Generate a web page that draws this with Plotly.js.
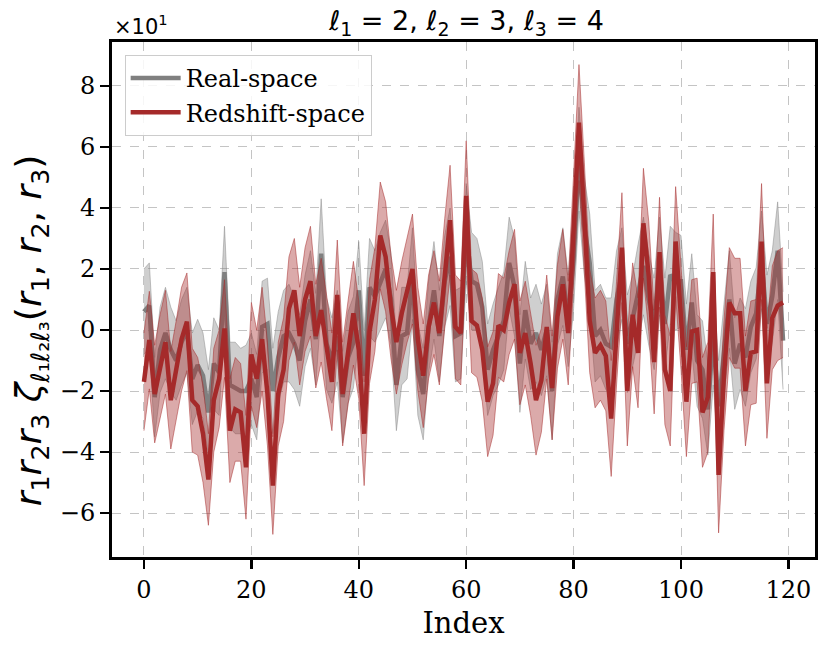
<!DOCTYPE html>
<html>
<head>
<meta charset="utf-8">
<script src="https://cdn.plot.ly/plotly-3.0.1.min.js"></script>
<style>
  body { margin: 0; background: #fff; }
  #graph { width: 830px; height: 652px; }
</style>
</head>
<body>
<div id="graph"></div>
<script>
// values in units of 10^1, index 0..119
var realMean = [
    0.6, 0.8, -2.2, -0.65, -0.1, -0.65, -1.0, -0.4, 0, -1.6,
    -1.15, -1.5, -2.7, -1.1, -1.4, 1.9, -1.8, -1.9, -2.0, -2.0,
    -1.6, -2.2, 0.1, 0.2, -2.0, -0.9, -0.2, -0.1, -0.45, -1.0,
    0.3, 1.0, -0.3, 2.5, -0.45, -1.0, -0.2, -2.2, -0.9, -0.4,
    1.3, -1.5, 1.4, 1.1, 1.6, 2.0, 1.0, -1.8, -0.2, -0.1,
    1.85, -1.3, -2.1, 0.1, 1.3, -0.2, 1.6, 2.4, -0.2, -0.1,
    3.2, 1.6, 1.5, 0.75, -1.3, -0.65, -0.2, 0.3, 2.2, 1.4,
    -1.1, 0.65, -0.45, -0.1, -0.65, 0, -2.0, 1.0, 1.75, 0.3,
    2.3, 5.6, 3.4, 2.2, -0.2, 0, -0.45, -0.55, 1.0, 1.85,
    -0.45, 0.3, 1.2, 2.1, 1.0, 0.2, 2.1, 0.2, 1.8, 1.6,
    1.6, -0.65, 0.9, -1.0, -1.3, -2.6, -0.2, -2.5, -0.65, 1.0,
    -1.1, -0.45, -0.9, 0.1, 0.55, 2.3, 0.2, 1.1, 2.6, -0.35
];
var realErr = [
    1.4, 1.4, 1.3, 1.4, 1.5, 1.4, 1.3, 1.4, 1.4, 1.5,
    1.5, 1.4, 1.4, 1.5, 1.4, 1.5, 1.4, 1.5, 1.4, 1.5,
    1.5, 1.4, 1.5, 1.5, 1.4, 1.5, 1.5, 1.6, 1.5, 1.5,
    1.5, 1.6, 1.5, 1.8, 1.5, 1.4, 1.5, 1.5, 1.5, 1.5,
    1.6, 1.5, 1.6, 1.5, 1.6, 1.6, 1.5, 1.5, 1.6, 1.5,
    1.5, 1.5, 1.5, 1.5, 1.6, 1.5, 1.5, 1.6, 1.5, 1.5,
    1.6, 1.6, 1.5, 1.5, 1.5, 1.5, 1.6, 1.6, 1.5, 1.6,
    1.6, 1.6, 1.5, 1.6, 1.5, 1.5, 1.6, 1.5, 1.6, 1.5,
    1.6, 1.7, 1.6, 1.6, 1.5, 1.5, 1.5, 1.6, 1.6, 1.5,
    1.6, 1.5, 1.6, 1.6, 1.5, 1.5, 1.6, 1.5, 1.6, 1.6,
    1.5, 1.5, 1.6, 1.5, 1.6, 1.5, 1.6, 1.5, 1.5, 1.6,
    1.5, 1.5, 1.6, 1.5, 1.5, 1.6, 1.6, 1.5, 1.6, 1.6
];
var rsdMean = [
    -1.7, -0.33, -2.1, -1.2, -0.4, -2.3, -1.3, -0.3, 0.27, -2.3,
    -2.5, -3.4, -4.9, -2.3, -1.6, 0.05, -3.3, -2.6, -2.7, -4.5,
    -0.8, -1.6, -0.3, -2.1, -5.1, -2.1, -1.3, 0.7, 1.3, -0.2,
    1.0, 1.6, -0.2, 0.65, -0.55, -1.7, 1.15, -2.1, -0.75, 0.55,
    -0.65, -3.4, -0.05, 1.0, 3.1, 2.4, 0.75, -0.4, 0.55, 1.3,
    2.0, -0.3, -1.5, 0.1, 0.9, -0.1, 1.85, 3.6, 0.1, -0.1,
    4.4, 0.3, 0.15, -0.65, -2.35, -1.75, 0.15, 0, 0.9, 1.5,
    -0.75, -0.1, -1.1, -2.3, -1.65, 0.1, -1.9, 0.45, 1.5, -0.1,
    3.3, 6.8, 3.7, 0.3, -0.75, -0.5, -0.85, -2.9, -0.1, 2.7,
    -2.0, 0.5, -0.75, 3.5, 1.75, -1.05, 2.55, -1.3, -2.0, 2.9,
    0.4, -2.35, -0.05, 0, -2.7, -2.2, 1.9, -4.75, -1.5, 0.9,
    0.55, 0.55, -2.0, -0.75, -0.7, 2.9, -1.75, 0.4, 0.8, 0.9
];
var rsdErr = [
    1.6, 1.6, 1.6, 1.7, 1.7, 1.6, 1.6, 1.7, 1.6, 1.7,
    1.6, 1.6, 1.5, 1.7, 1.6, 1.6, 1.7, 1.7, 1.6, 1.7,
    1.7, 1.6, 1.7, 1.7, 1.6, 1.7, 1.7, 1.7, 1.7, 1.6,
    1.7, 1.8, 1.7, 1.7, 1.7, 1.6, 1.8, 1.7, 1.7, 1.7,
    1.6, 1.7, 1.7, 1.7, 1.75, 1.8, 1.7, 1.7, 1.7, 1.7,
    1.8, 1.7, 1.7, 1.7, 1.7, 1.7, 1.8, 1.8, 1.7, 1.7,
    1.8, 1.7, 1.7, 1.7, 1.8, 1.7, 1.7, 1.7, 1.7, 1.8,
    1.7, 1.7, 1.7, 1.8, 1.7, 1.7, 1.7, 1.7, 1.8, 1.7,
    1.8, 1.9, 1.8, 1.7, 1.8, 1.8, 1.8, 1.9, 1.7, 1.8,
    1.8, 1.7, 1.8, 1.8, 1.8, 1.7, 1.8, 1.8, 1.8, 1.8,
    1.7, 1.8, 1.7, 1.7, 1.8, 1.8, 1.9, 1.9, 1.8, 1.8,
    1.8, 1.8, 1.8, 1.7, 1.7, 1.9, 1.8, 1.7, 1.8, 1.8
];
var yTicks = [-6, -4, -2, 0, 2, 4, 6, 8];
var xTicks = [0, 20, 40, 60, 80, 100, 120];

function band(mean, err, sign) {
    var out = [];
    for (var i = 0; i < mean.length; i++) {
        out.push(mean[i] + sign * err[i]);
    }
    return out;
}

var idx = [];
for (var i = 0; i < realMean.length; i++) {
    idx.push(i);
}

var grayFill = 'rgba(128,128,128,0.38)';
var redFill = 'rgba(165,42,42,0.4)';

var data = [
    // real-space band + line
    { x: idx, y: band(realMean, realErr, -1), mode: 'lines', showlegend: false, hoverinfo: 'skip',
      line: { color: 'rgba(128,128,128,0.45)', width: 1 } },
    { x: idx, y: band(realMean, realErr, 1), mode: 'lines', fill: 'tonexty', fillcolor: grayFill,
      showlegend: false, hoverinfo: 'skip', line: { color: 'rgba(128,128,128,0.45)', width: 1 } },
    { x: idx, y: realMean, mode: 'lines', name: 'Real-space', line: { color: 'gray', width: 4.5 } },
    // redshift-space band + line
    { x: idx, y: band(rsdMean, rsdErr, -1), mode: 'lines', showlegend: false, hoverinfo: 'skip',
      line: { color: 'rgba(165,42,42,0.5)', width: 1 } },
    { x: idx, y: band(rsdMean, rsdErr, 1), mode: 'lines', fill: 'tonexty', fillcolor: redFill,
      showlegend: false, hoverinfo: 'skip', line: { color: 'rgba(165,42,42,0.5)', width: 1 } },
    { x: idx, y: rsdMean, mode: 'lines', name: 'Redshift-space', line: { color: '#a52a2a', width: 4.5 } }
];

var layout = {
    width: 830,
    height: 652,
    margin: { l: 112, r: 15, t: 42, b: 95 },
    paper_bgcolor: '#fff',
    plot_bgcolor: '#fff',
    title: {
        text: 'ℓ<sub>1</sub> = 2, ℓ<sub>2</sub> = 3, ℓ<sub>3</sub> = 4',
        font: { family: 'DejaVu Sans', size: 27, color: '#000' },
        x: 0.562, xanchor: 'center', y: 0.968, yanchor: 'middle'
    },
    xaxis: {
        range: [-5.95, 124.95],
        tickvals: xTicks,
        ticks: 'outside', ticklen: 9, tickwidth: 2.5, tickcolor: '#000',
        showline: true, linecolor: '#000', linewidth: 3, mirror: true,
        showgrid: true, gridcolor: '#b5b5b5', griddash: 'dash', gridwidth: 0.8,
        zeroline: false,
        tickfont: { family: 'DejaVu Serif', size: 24, color: '#000' },
        title: { text: 'Index', font: { family: 'DejaVu Serif', size: 29, color: '#000' }, standoff: 10 }
    },
    yaxis: {
        range: [-7.44, 9.44],
        tickvals: yTicks,
        ticks: 'outside', ticklen: 9, tickwidth: 2.5, tickcolor: '#000',
        showline: true, linecolor: '#000', linewidth: 3, mirror: true,
        showgrid: true, gridcolor: '#b5b5b5', griddash: 'dash', gridwidth: 0.8,
        zeroline: false,
        tickfont: { family: 'DejaVu Serif', size: 24, color: '#000' }
    },
    legend: {
        x: 0.018, y: 0.975, xanchor: 'left', yanchor: 'top',
        traceorder: 'normal',
        bgcolor: 'rgba(255,255,255,0.85)', bordercolor: '#cccccc', borderwidth: 1,
        font: { family: 'DejaVu Serif', size: 24, color: '#000' },
        itemwidth: 50,
        tracegroupgap: 4
    },
    annotations: [{
        xref: 'paper', yref: 'paper', x: 0, y: 1, xanchor: 'left', yanchor: 'bottom',
        yshift: 1, showarrow: false,
        text: '×10<sup>1</sup>',
        font: { family: 'DejaVu Sans', size: 21, color: '#000' }
    }, {
        // y-axis label, placed by hand so it can be a bit larger than Plotly's title
        xref: 'paper', yref: 'paper', x: -0.114, y: 0.44, xanchor: 'center', yanchor: 'middle',
        textangle: -90, showarrow: false,
        text: '<i>r</i><sub>1</sub><i>r</i><sub>2</sub><i>r</i><sub>3</sub> <i>ζ</i><sub>ℓ₁ℓ₂ℓ₃</sub>(<i>r</i><sub>1</sub>, <i>r</i><sub>2</sub>, <i>r</i><sub>3</sub>)',
        font: { family: 'DejaVu Sans', size: 36, color: '#000' }
    }]
};

Plotly.newPlot('graph', data, layout, { displayModeBar: false, staticPlot: true });
</script>
</body>
</html>
